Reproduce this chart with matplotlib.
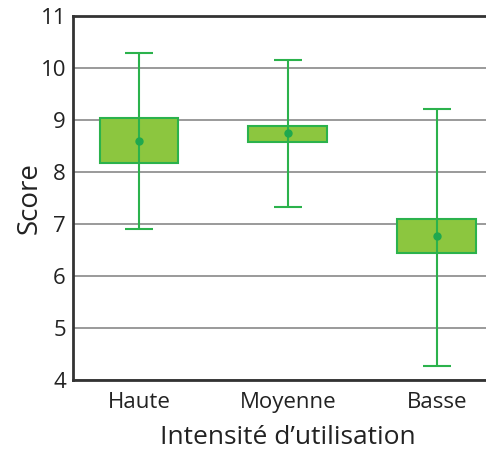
import matplotlib
matplotlib.use("Agg")
import matplotlib.pyplot as plt
import numpy as np

categories = ["Haute", "Moyenne", "Basse"]
means = [8.60, 8.74, 6.76]
box_low = [8.17, 8.58, 6.43]
box_high = [9.03, 8.88, 7.10]
whisk_low = [6.90, 7.33, 4.27]
whisk_high = [10.28, 10.15, 9.21]
yticks = [4, 5, 6, 7, 8, 9, 10, 11]

plt.rcParams['font.family'] = ['Open Sans', 'DejaVu Sans']

fig = plt.figure(figsize=(4.86, 4.55), dpi=100)
ax = fig.add_axes([0.150, 0.165, 0.85, 0.8005])

x = np.arange(len(categories))
means_a = np.array(means)
lo = np.array(whisk_low)
hi = np.array(whisk_high)

ax.set_axisbelow(True)
ax.yaxis.grid(True, color='#9a9a9a', linewidth=1.4)

ax.bar(x, np.array(box_high) - np.array(box_low), bottom=box_low, width=0.53,
       color='#8cc63f', edgecolor='#2bb24c', linewidth=1.5, zorder=2)
ax.errorbar(x, means_a, yerr=[means_a - lo, hi - means_a], fmt='o',
            color='#1fa84f', ecolor='#2bb24c', elinewidth=1.5, capsize=10,
            capthick=1.5, markersize=5, zorder=3)

ax.set_xlim(-0.444, 2.33)
ax.set_ylim(4, 11)
ax.set_yticks(yticks)
ax.set_xticks(x)
ax.set_xticklabels(categories)
ax.tick_params(axis='y', length=0, labelsize=16, colors='#222222', pad=5)
ax.tick_params(axis='x', length=0, labelsize=16, colors='#222222', pad=9)
ax.set_ylabel("Score", fontsize=20, color='#222222')
ax.set_xlabel("Intensité d\u2019utilisation", fontsize=19, color='#222222')
ax.xaxis.label.set_va('center')
ax.yaxis.label.set_va('center')
ax.xaxis.set_label_coords((288 - 73) / 413.1, (380 - 438) / 364.2)
ax.yaxis.set_label_coords((29.5 - 73) / 413.1, (380 - 198) / 364.2)

for s in ['left', 'bottom', 'top']:
    ax.spines[s].set_color('#333333')
    ax.spines[s].set_linewidth(2)
ax.spines['right'].set_visible(False)

fig.savefig("out.png", dpi=100)
